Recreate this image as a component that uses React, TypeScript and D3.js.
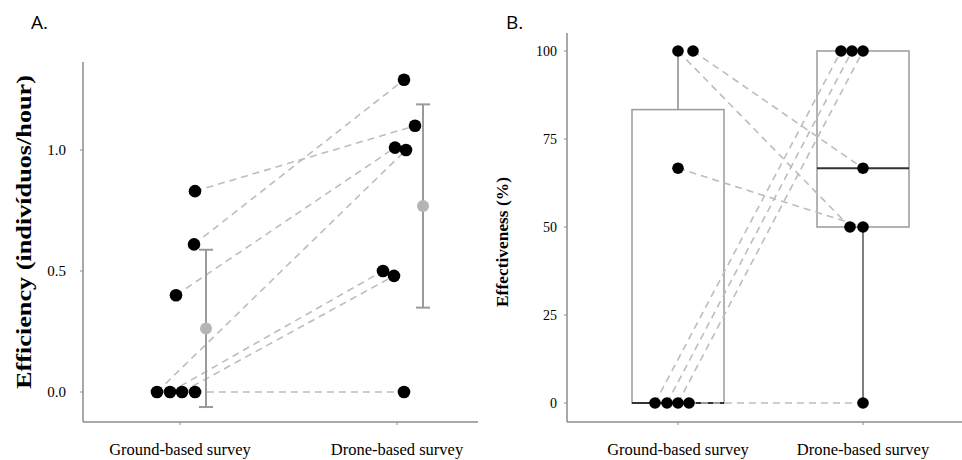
import React from 'react';
import * as d3 from 'd3';

const width = 962;
const height = 460;

// shared categories
const categories = ['Ground-based survey', 'Drone-based survey'];

// panel A: efficiency per subject (paired)
const groundEff = [0.83, 0.61, 0.4, 0, 0, 0, 0];
const droneEff = [1.1, 1.29, 1.01, 1.0, 0.5, 0.48, 0];
const effError = [0.325, 0.42]; // error bar half-widths
const effTicks = [0, 0.5, 1.0];

// panel B: effectiveness per subject (paired)
const groundPct = [100, 100, 66.7, 0, 0, 0, 0];
const dronePct = [50, 66.7, 50, 100, 100, 100, 0];
const pctTicks = [0, 25, 50, 75, 100];

// horizontal jitter (px) of each point, layout only
const jitterA = { ground: [15, 14, -4, -23, -10, 2, 15], drone: [18, 7, -2, 9, -14, -3, 7] };
const jitterB = { ground: [0, 15, 0, -23, -11, 0, 11], drone: [-13, 0, 0, -22, -11, 0, 0] };

const serif = '"Liberation Serif", "Times New Roman", serif';
const sans = '"Open Sans", "Liberation Sans", sans-serif';
const axisGray = '#8c8c8c';
const dashGray = '#bdbdbd';

function PanelA() {
	const x = d3.scalePoint<string>().domain(categories).range([180, 397]);
	const y = d3.scaleLinear().domain([0, 1]).range([392, 150]);
	const series = [groundEff, droneEff];
	const jit = [jitterA.ground, jitterA.drone];
	const line = d3.line<[number, number]>();
	return (
		<g>
			<text x={31} y={29} fontFamily={sans} fontSize={19}>A.</text>
			{/* axes */}
			<line x1={83} x2={83} y1={62} y2={422} stroke={axisGray} strokeWidth={1.5} />
			<line x1={83} x2={478} y1={422} y2={422} stroke={axisGray} strokeWidth={1.5} />
			{effTicks.map((t) => (
				<g key={t}>
					<line x1={80} x2={83} y1={y(t)} y2={y(t)} stroke={axisGray} />
					<text x={66} y={y(t)} dy="0.35em" textAnchor="end" fontFamily={serif} fontSize={15}>
						{d3.format('.1f')(t)}
					</text>
				</g>
			))}
			{categories.map((c) => (
				<g key={c}>
					<line x1={x(c)} x2={x(c)} y1={422} y2={425} stroke={axisGray} />
					<text x={x(c)} y={455} textAnchor="middle" fontFamily={serif} fontSize={16.5}>{c}</text>
				</g>
			))}
			<text
				transform={`translate(31, 232) rotate(-90)`}
				textAnchor="middle"
				fontFamily={serif}
				fontWeight="bold"
				fontSize={21}
				textLength={314}
				lengthAdjust="spacingAndGlyphs"
			>
				Efficiency (indivíduos/hour)
			</text>
			{/* paired dashed lines */}
			{groundEff.map((g, i) => (
				<path
					key={i}
					d={line([
						[x(categories[0])! + jit[0][i], y(g)],
						[x(categories[1])! + jit[1][i], y(droneEff[i])]
					]) as string}
					fill="none"
					stroke={dashGray}
					strokeWidth={1.6}
					strokeDasharray="7,5"
				/>
			))}
			{/* mean and error bars */}
			{series.map((s, k) => {
				const m = d3.mean(s) as number;
				const cx = x(categories[k])! + 26;
				return (
					<g key={k} stroke="#9a9a9a" strokeWidth={2}>
						<line x1={cx} x2={cx} y1={y(m + effError[k])} y2={y(m - effError[k])} />
						<line x1={cx - 7} x2={cx + 7} y1={y(m + effError[k])} y2={y(m + effError[k])} />
						<line x1={cx - 7} x2={cx + 7} y1={y(m - effError[k])} y2={y(m - effError[k])} />
						<circle cx={cx} cy={y(m)} r={6} fill="#b5b5b5" stroke="none" />
					</g>
				);
			})}
			{/* points */}
			{series.map((s, k) =>
				s.map((v, i) => (
					<circle key={`${k}-${i}`} cx={x(categories[k])! + jit[k][i]} cy={y(v)} r={6.3} fill="#000" />
				))
			)}
		</g>
	);
}

function PanelB() {
	const x = d3.scalePoint<string>().domain(categories).range([678, 863]);
	const y = d3.scaleLinear().domain([0, 100]).range([403, 51]);
	const series = [groundPct, dronePct];
	const jit = [jitterB.ground, jitterB.drone];
	const line = d3.line<[number, number]>();
	const boxW = 92;
	return (
		<g>
			<text x={506} y={29} fontFamily={sans} fontSize={19}>B.</text>
			<line x1={567} x2={567} y1={33} y2={422} stroke={axisGray} strokeWidth={1.5} />
			<line x1={567} x2={962} y1={422} y2={422} stroke={axisGray} strokeWidth={1.5} />
			{pctTicks.map((t) => (
				<g key={t}>
					<line x1={564} x2={567} y1={y(t)} y2={y(t)} stroke={axisGray} />
					<text x={557} y={y(t)} dy="0.35em" textAnchor="end" fontFamily={serif} fontSize={14}>
						{t}
					</text>
				</g>
			))}
			{categories.map((c) => (
				<g key={c}>
					<line x1={x(c)} x2={x(c)} y1={422} y2={425} stroke={axisGray} />
					<text x={x(c)} y={455} textAnchor="middle" fontFamily={serif} fontSize={16.5}>{c}</text>
				</g>
			))}
			<text
				transform={`translate(508, 242) rotate(-90)`}
				textAnchor="middle"
				fontFamily={serif}
				fontWeight="bold"
				fontSize={17}
				textLength={130}
				lengthAdjust="spacingAndGlyphs"
			>
				Effectiveness (%)
			</text>
			{/* boxplots */}
			{series.map((s, k) => {
				const sorted = [...s].sort(d3.ascending);
				const q1 = d3.quantile(sorted, 0.25) as number;
				const med = d3.quantile(sorted, 0.5) as number;
				const q3 = d3.quantile(sorted, 0.75) as number;
				const iqr = q3 - q1;
				const lo = d3.min(sorted.filter((v) => v >= q1 - 1.5 * iqr)) as number;
				const hi = d3.max(sorted.filter((v) => v <= q3 + 1.5 * iqr)) as number;
				const cx = x(categories[k])!;
				return (
					<g key={k}>
						<line x1={cx} x2={cx} y1={y(q3)} y2={y(hi)} stroke="#8a8a8a" strokeWidth={1.5} />
						<line x1={cx} x2={cx} y1={y(q1)} y2={y(lo)} stroke="#555" strokeWidth={1.5} />
						<rect
							x={cx - boxW / 2}
							y={y(q3)}
							width={boxW}
							height={y(q1) - y(q3)}
							fill="#fff"
							stroke="#9a9a9a"
							strokeWidth={1.5}
						/>
						<line x1={cx - boxW / 2} x2={cx + boxW / 2} y1={y(med)} y2={y(med)} stroke="#333" strokeWidth={2} />
					</g>
				);
			})}
			{groundPct.map((g, i) => (
				<path
					key={i}
					d={line([
						[x(categories[0])! + jit[0][i], y(g)],
						[x(categories[1])! + jit[1][i], y(dronePct[i])]
					]) as string}
					fill="none"
					stroke={dashGray}
					strokeWidth={1.6}
					strokeDasharray="7,5"
				/>
			))}
			{series.map((s, k) =>
				s.map((v, i) => (
					<circle key={`${k}-${i}`} cx={x(categories[k])! + jit[k][i]} cy={y(v)} r={5.8} fill="#000" />
				))
			)}
		</g>
	);
}

export default function App() {
	return (
		<svg
			width={width}
			height={height}
			viewBox={`0 0 ${width} ${height}`}
			style={{ position: 'absolute', left: 0, top: 0, display: 'block', background: '#fff' }}
		>
			<PanelA />
			<PanelB />
		</svg>
	);
}
